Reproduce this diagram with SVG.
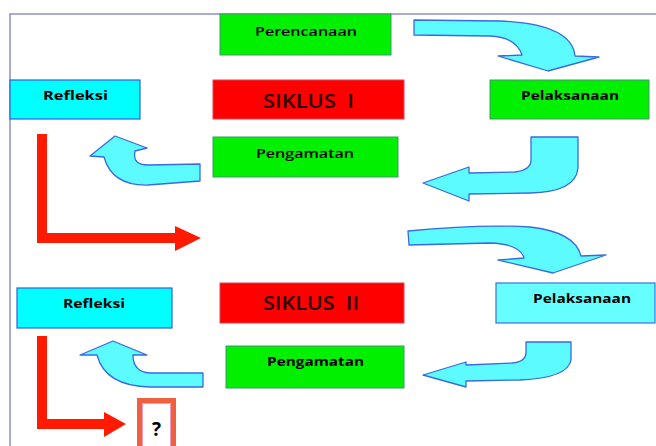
<svg xmlns="http://www.w3.org/2000/svg" width="656" height="446" viewBox="0 0 656 446">
<style>
.g{fill:#00f000;stroke:#3a9a6a;stroke-width:1}
.r{fill:#ff0000;stroke:#e04050;stroke-width:1}
.c{fill:#00ffff;stroke:#3060e0;stroke-width:1.2}
.c2{fill:#66ffff;stroke:#3a70e0;stroke-width:1.2}
.t{font-family:"Open Sans","Liberation Sans",sans-serif;font-size:12px;fill:#000;font-weight:600}
.b{font-weight:bold}
.s{font-family:"Open Sans","Liberation Sans",sans-serif;font-size:19px;fill:#2a0000;font-weight:600;white-space:pre}
.ar{fill:#5cfbff;stroke:#3a6ae0;stroke-width:1.3;stroke-linejoin:round}
.rl{fill:none;stroke:#ff1a00;stroke-width:10;stroke-linejoin:miter}
.rh{fill:#ff1a00}
</style>
<g id="frame"><polyline points="656,14 10,14 10,446" fill="none" stroke="#8c90c4" stroke-width="1.5"/></g>
<g id="connectors">
<path class="ar" d="M414,20 L500,21 Q572,24 575,56 L599,57 L548,71 L498,56 L522,55 Q516,37 490,36 L414,35 Z"/>
<path class="ar" d="M531,137 L578,137 L578,168 Q576,192 530,193 L469,194 L469,201 L423,183 L469,167 L469,173 L515,172 Q531,170 531,160 Z"/>
<path class="ar" d="M200,164 L200,181 L148,185 Q112,186 104,157 L90,156 L115,136 L147,148 L135,151 Q132,165 148,165 Z"/>
<path class="rl" d="M42,134 L42,238 L178,238"/>
<polygon class="rh" points="175,226 201,238 175,251"/>
<path class="ar" d="M408,231 Q480,224 530,227 Q575,232 581,256 L606,255 L553,273 L498,260 L524,258 Q520,244 490,243 L409,245 Z"/>
<path class="ar" d="M526,342 L571,342 L571,360 Q568,378 520,380 L466,381 L466,387 L423,375 L466,362 L466,365 L512,363 Q526,362 526,352 Z"/>
<path class="ar" d="M203,373 L203,387 L150,387 Q105,386 97,355 L80,355 L113,341 L147,355 L133,355 Q133,372 150,373 Z"/>
<path class="rl" d="M42,336 L42,424 L106,424"/>
<polygon class="rh" points="104,412 126,424 104,437"/>
</g>
<g id="perencanaan"><rect class="g" x="220" y="14" width="171" height="41"/><text class="t" x="255" y="36" textLength="102" lengthAdjust="spacingAndGlyphs">Perencanaan</text></g>
<g id="refleksi1"><rect class="c" x="10" y="80" width="130" height="39"/><text class="t b" x="43" y="100" textLength="65" lengthAdjust="spacingAndGlyphs">Refleksi</text></g>
<g id="siklus1"><rect class="r" x="213" y="80" width="191" height="39"/><text class="s" x="263" y="108" textLength="91" lengthAdjust="spacingAndGlyphs" xml:space="preserve">SIKLUS  I</text></g>
<g id="pelaksanaan1"><rect class="g" x="490" y="80" width="159" height="39"/><text class="t b" x="521" y="100" textLength="98" lengthAdjust="spacingAndGlyphs">Pelaksanaan</text></g>
<g id="pengamatan1"><rect class="g" x="213" y="137" width="185" height="40"/><text class="t" x="256" y="158" textLength="98" lengthAdjust="spacingAndGlyphs">Pengamatan</text></g>
<g id="refleksi2"><rect class="c" x="17" y="288" width="155" height="40"/><text class="t b" x="63" y="308" textLength="62" lengthAdjust="spacingAndGlyphs">Refleksi</text></g>
<g id="siklus2"><rect class="r" x="220" y="283" width="184" height="40"/><text class="s" x="263" y="310" textLength="96" lengthAdjust="spacingAndGlyphs" xml:space="preserve">SIKLUS  II</text></g>
<g id="pelaksanaan2"><rect class="c2" x="496" y="283" width="159" height="40"/><text class="t b" x="533" y="303" textLength="98" lengthAdjust="spacingAndGlyphs">Pelaksanaan</text></g>
<g id="pengamatan2"><rect class="g" x="226" y="346" width="178" height="42"/><text class="t b" x="267" y="366" textLength="97" lengthAdjust="spacingAndGlyphs">Pengamatan</text></g>
<g id="question"><rect x="139.5" y="400.5" width="34" height="50" fill="#fff" stroke="#f06040" stroke-width="5"/><rect x="142.5" y="403.5" width="28" height="50" fill="none" stroke="#f0a0c0" stroke-width="1"/><text x="152" y="436" font-family="'Open Sans','Liberation Sans',sans-serif" font-size="19" font-weight="bold" fill="#000">?</text></g>
</svg>
